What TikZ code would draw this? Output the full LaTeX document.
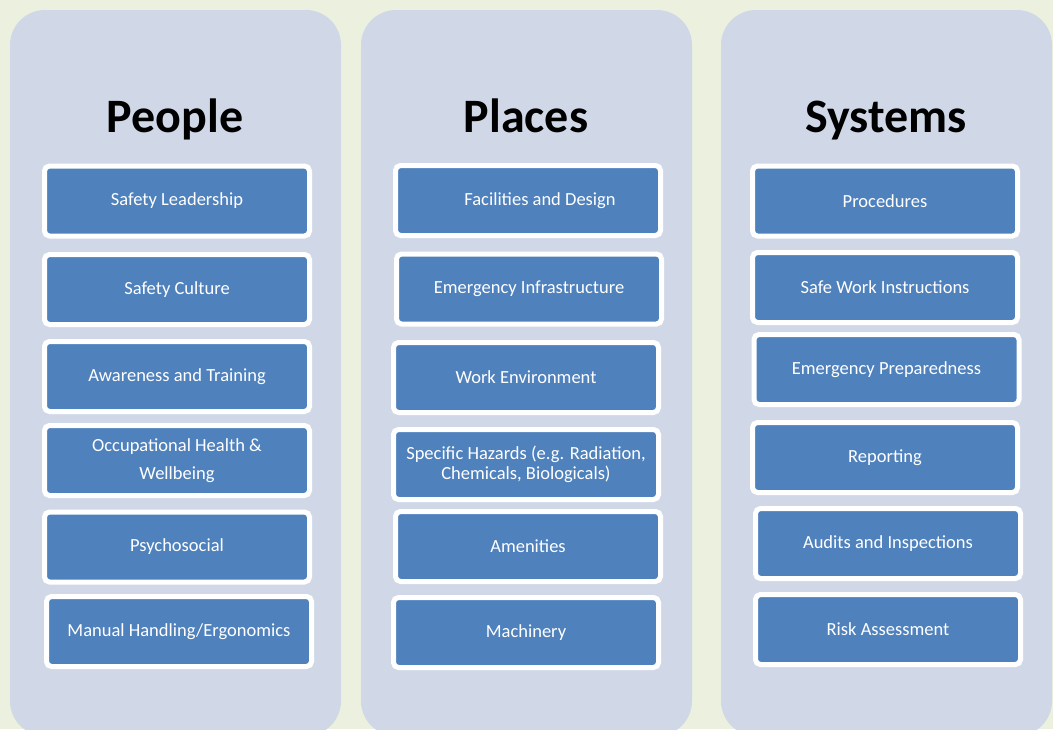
\documentclass[tikz,border=0pt]{standalone}
\usepackage{fontspec}
\setmainfont{Carlito}
\definecolor{pagegreen}{HTML}{EBF1DE}
\definecolor{colgrey}{HTML}{D0D8E8}
\definecolor{itemblue}{HTML}{4F81BD}
\begin{document}
\begin{tikzpicture}[x=1pt, y=-1pt,
  column/.style={fill=colgrey, rounded corners=35pt, minimum width=331pt,
                 minimum height=726pt, inner sep=0pt},
  heading/.style={font=\fontsize{48}{58}\selectfont\bfseries, anchor=base},
  item/.style={draw=white, line width=5pt, fill=itemblue, rounded corners=5pt,
               minimum width=265pt, minimum height=70pt, inner sep=2pt,
               align=center, text=white, font=\fontsize{18.5}{22}\selectfont}
]
  \useasboundingbox[fill=pagegreen] (0,0) rectangle (1053,729);
  % the three columns (they run off the bottom edge)
  \begin{scope}
    \clip (0,0) rectangle (1053,729);
    \node[column] (people)  at (175.5,373) {};
    \node[column] (places)  at (526.5,373) {};
    \node[column] (systems) at (886.5,373) {};
  \end{scope}
  \node[heading] (hpeople)  at (175,132) {People};
  \node[heading] (hplaces)  at (526,132) {Places};
  \node[heading] (hsystems) at (886,132) {Systems};
  % People
  \node[item] (p1) at (177,201)   {Safety Leadership};
  \node[item] (p2) at (177,289.5) {Safety Culture};
  \node[item] (p3) at (177,376.5) {Awareness and Training};
  \node[item] (p4) at (177,460.5) {Occupational Health \&\\[6pt]Wellbeing};
  \node[item] (p5) at (177,547)   {Psychosocial};
  \node[item] (p6) at (179,631.5) {Manual Handling/Ergonomics};
  % Places
  \node[item] (l1) at (528,200.5) {\hspace{24pt}Facilities and Design};
  \node[item] (l2) at (529,289)   {Emergency Infrastructure};
  \node[item] (l3) at (526,377.5) {Work Environment};
  \node[item] (l4) at (526,464.5) {Specific Hazards (e.g. Radiation,\\[-2pt]Chemicals, Biologicals)};
  \node[item] (l5) at (528,546.5) {Amenities};
  \node[item] (l6) at (526,632.5) {Machinery};
  % Systems
  \node[item] (s1) at (885,201)   {Procedures};
  \node[item] (s2) at (885,287.5) {Safe Work Instructions};
  \node[item] (s3) at (886.5,369.5) {Emergency Preparedness};
  \node[item] (s4) at (885,457.5) {Reporting};
  \node[item] (s5) at (888,543.5) {Audits and Inspections};
  \node[item] (s6) at (888,629.5) {Risk Assessment};
\end{tikzpicture}
\end{document}
